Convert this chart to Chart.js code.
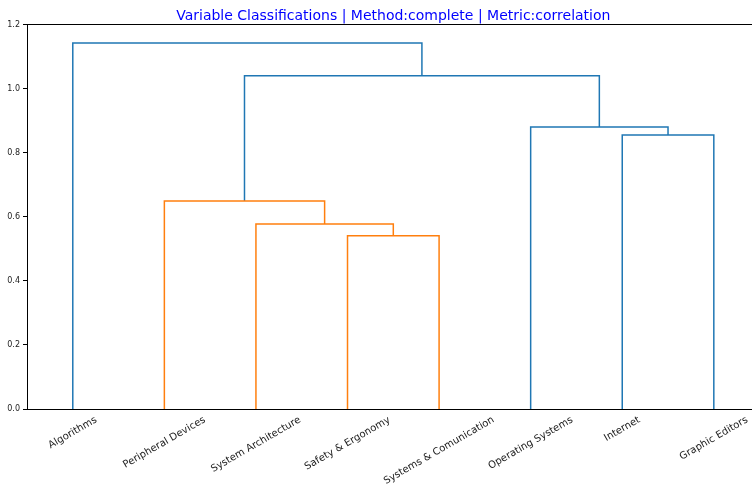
<!DOCTYPE html>
<html>
<head>
<meta charset="utf-8">
<script src="https://cdn.jsdelivr.net/npm/chart.js@4/dist/chart.umd.min.js"></script>
<style>
  html, body { margin: 0; padding: 0; background: #fff; }
  #wrap { width: 752px; height: 490px; position: relative; }
</style>
</head>
<body>
<div id="wrap"><canvas id="dendro"></canvas></div>
<script>
// leaves, in dendrogram order
const leafLabels = ['Algorithms', 'Peripheral Devices', 'System Architecture', 'Safety & Ergonomy',
  'Systems & Comunication', 'Operating Systems', 'Internet', 'Graphic Editors'];
const leafPositions = [5, 15, 25, 35, 45, 55, 65, 75];

// one U-shaped link per merge (scipy style icoord / dcoord)
const icoord = [
  [35, 35, 45, 45],
  [25, 25, 40, 40],
  [15, 15, 32.5, 32.5],
  [65, 65, 75, 75],
  [55, 55, 70, 70],
  [23.75, 23.75, 62.5, 62.5],
  [5, 5, 43.125, 43.125]
];
const dcoord = [
  [0, 0.541, 0.541, 0],
  [0, 0.578, 0.578, 0.541],
  [0, 0.650, 0.650, 0.578],
  [0, 0.856, 0.856, 0],
  [0, 0.881, 0.881, 0.856],
  [0.650, 1.041, 1.041, 0.881],
  [0, 1.143, 1.143, 1.041]
];
const linkColors = ['C1', 'C1', 'C1', 'C0', 'C0', 'C0', 'C0'];
const yTicks = [0, 0.2, 0.4, 0.6, 0.8, 1.0, 1.2];

const palette = { C0: '#1f77b4', C1: '#ff7f0e' };

const datasets = icoord.map((xs, i) => ({
  data: xs.map((x, j) => ({ x: x, y: dcoord[i][j] })),
  showLine: true,
  borderColor: palette[linkColors[i]],
  borderWidth: 1.5,
  pointRadius: 0,
  fill: false,
  tension: 0
}));

// the full axes run 0..80 but the picture is cut at the right, so centre the title on the axes
const titleCentre = {
  id: 'titleCentre',
  afterLayout(chart) {
    const mid = chart.scales.x.getPixelForValue(40);
    chart.titleBlock.left = 2 * mid - chart.titleBlock.right;
  }
};

// matplotlib-like leaf labels: rotated 30deg, centred under the leaf
const leafLabelPlugin = {
  id: 'leafLabels',
  afterDraw(chart) {
    const c = chart.ctx;
    const xs = chart.scales.x;
    const top = chart.chartArea.bottom + 5;
    const ang = 30 * Math.PI / 180;
    c.save();
    c.font = '10px "DejaVu Sans"';
    c.fillStyle = '#222';
    c.textAlign = 'center';
    c.textBaseline = 'middle';
    leafLabels.forEach((lab, i) => {
      const w = c.measureText(lab).width;
      const h = 12;
      const H = w * Math.sin(ang) + h * Math.cos(ang);
      const px = xs.getPixelForValue(leafPositions[i]);
      c.save();
      c.translate(px, top + H / 2);
      c.rotate(-ang);
      c.fillText(lab, 0, 0);
      c.restore();
    });
    c.restore();
  }
};

new Chart(document.getElementById('dendro'), {
  type: 'scatter',
  data: { datasets },
  options: {
    responsive: true,
    maintainAspectRatio: false,
    animation: false,
    layout: { padding: { left: 0, right: 0, top: 0, bottom: 0 } },
    plugins: {
      legend: { display: false },
      tooltip: { enabled: false },
      title: {
        display: true,
        text: 'Variable Classifications | Method:complete | Metric:correlation',
        color: '#0000ff',
        font: { family: '"DejaVu Sans"', size: 14, weight: 'normal' },
        padding: { top: 8, bottom: 0 }
      }
    },
    scales: {
      x: {
        type: 'linear',
        min: 0,
        max: 79.17,
        ticks: { display: false },
        grid: { display: false },
        border: { display: true, color: '#000', width: 1 },
        afterFit(s) { s.height = 81; }
      },
      x2: {
        type: 'linear',
        position: 'top',
        min: 0,
        max: 79.17,
        ticks: { display: false },
        grid: { display: false },
        border: { display: true, color: '#000', width: 1 },
        afterFit(s) { s.height = 0; }
      },
      y: {
        type: 'linear',
        min: 0,
        max: 1.2,
        afterBuildTicks(s) { s.ticks = yTicks.map(v => ({ value: v })); },
        ticks: {
          font: { family: '"DejaVu Sans"', size: 8 },
          color: '#222',
          padding: 3,
          callback: v => Number(v).toFixed(1)
        },
        grid: { display: true, drawOnChartArea: false, drawTicks: true, tickLength: 4, color: '#000' },
        border: { display: true, color: '#000', width: 1 },
        afterFit(s) { s.width = 27; }
      }
    }
  },
  plugins: [titleCentre, leafLabelPlugin]
});
</script>
</body>
</html>
